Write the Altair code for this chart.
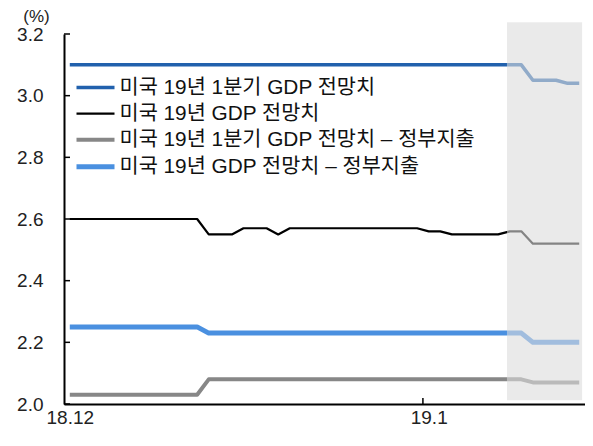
import altair as alt
import pandas as pd

series = [
    "미국 19년 1분기 GDP 전망치",
    "미국 19년 GDP 전망치",
    "미국 19년 1분기 GDP 전망치 – 정부지출",
    "미국 19년 GDP 전망치 – 정부지출",
]
colors = ["#2161AD", "#000000", "#878787", "#4A90E0"]
widths = [3.5, 2.2, 4, 5]

day_index = [0, 1, 2, 3, 4, 5, 6, 7, 8, 9, 10, 11, 12, 13, 14, 15, 16, 17, 18, 19,
             20, 21, 22, 23, 24, 25, 26, 27, 28, 29, 30, 31, 32, 33, 34, 35, 36, 37, 38, 39,
             40, 41, 42, 43, 44]

us_q1 = [3.10, 3.10, 3.10, 3.10, 3.10, 3.10, 3.10, 3.10, 3.10, 3.10, 3.10, 3.10, 3.10, 3.10, 3.10,
         3.10, 3.10, 3.10, 3.10, 3.10, 3.10, 3.10, 3.10, 3.10, 3.10, 3.10, 3.10, 3.10, 3.10, 3.10,
         3.10, 3.10, 3.10, 3.10, 3.10, 3.10, 3.10, 3.10, 3.10, 3.10, 3.05, 3.05, 3.05, 3.04, 3.04]
us_year = [2.60, 2.60, 2.60, 2.60, 2.60, 2.60, 2.60, 2.60, 2.60, 2.60, 2.60, 2.60, 2.55, 2.55, 2.55,
           2.57, 2.57, 2.57, 2.55, 2.57, 2.57, 2.57, 2.57, 2.57, 2.57, 2.57, 2.57, 2.57, 2.57, 2.57,
           2.57, 2.56, 2.56, 2.55, 2.55, 2.55, 2.55, 2.55, 2.56, 2.56, 2.52, 2.52, 2.52, 2.52, 2.52]
us_q1_gov = [2.03, 2.03, 2.03, 2.03, 2.03, 2.03, 2.03, 2.03, 2.03, 2.03, 2.03, 2.03, 2.08, 2.08, 2.08,
             2.08, 2.08, 2.08, 2.08, 2.08, 2.08, 2.08, 2.08, 2.08, 2.08, 2.08, 2.08, 2.08, 2.08, 2.08,
             2.08, 2.08, 2.08, 2.08, 2.08, 2.08, 2.08, 2.08, 2.08, 2.08, 2.07, 2.07, 2.07, 2.07, 2.07]
us_year_gov = [2.25, 2.25, 2.25, 2.25, 2.25, 2.25, 2.25, 2.25, 2.25, 2.25, 2.25, 2.25, 2.23, 2.23, 2.23,
               2.23, 2.23, 2.23, 2.23, 2.23, 2.23, 2.23, 2.23, 2.23, 2.23, 2.23, 2.23, 2.23, 2.23, 2.23,
               2.23, 2.23, 2.23, 2.23, 2.23, 2.23, 2.23, 2.23, 2.23, 2.23, 2.20, 2.20, 2.20, 2.20, 2.20]

x_tick_values = [0, 31]
x_tick_labels = ["18.12", "19.1"]
x_tick_marks = [30.5]
y_tick_values = [2.0, 2.2, 2.4, 2.6, 2.8, 3.0, 3.2]

shade_x = [37.76, 44.25]
shade_y = [2.012, 3.238]

rows = []
for name, vals in zip(series, [us_q1, us_year, us_q1_gov, us_year_gov]):
    for d, v in zip(day_index, vals):
        rows.append({"i": d, "v": v, "s": name})
df = pd.DataFrame(rows)

FONT = "Liberation Sans, Noto Sans CJK KR"

label_expr = "datum.value == %d ? '%s' : '%s'" % (x_tick_values[0], x_tick_labels[0], x_tick_labels[1])

PLOT_W = 521
PLOT_H = 370

x_scale = alt.Scale(domain=[-0.5, 44.5], nice=False, zero=False)
y_scale = alt.Scale(domain=[2.0, 3.2], nice=False, zero=False)

x_axis = alt.Axis(
    values=x_tick_values,
    labelExpr=label_expr,
    ticks=False,
    grid=False,
    domainColor="#000000",
    domainWidth=2,
    labelFontSize=19,
    labelColor="#222222",
    labelPadding=4.5,
    labelFont=FONT,
    title=None,
)
y_axis = alt.Axis(
    values=y_tick_values,
    format=".1f",
    ticks=False,
    grid=False,
    domainColor="#000000",
    domainWidth=2,
    labelFontSize=19,
    labelColor="#222222",
    labelPadding=21,
    labelFont=FONT,
    title="(%)",
    titleAngle=0,
    titleX=-28,
    titleY=-13,
    titleAlign="center",
    titleBaseline="alphabetic",
    titleFontWeight="normal",
    titleFontSize=17,
    titleColor="#222222",
    titleFont=FONT,
)

legend = alt.Legend(
    title=None,
    orient="none",
    legendX=10,
    legendY=42,
    symbolType="M-1,0H3",
    symbolSize=361,
    labelOffset=21.5,
    labelFontSize=20.8,
    labelColor="#111111",
    labelLimit=600,
    rowPadding=4.6,
    labelFont=FONT,
)

lines = alt.Chart(df).mark_line(strokeJoin="round").encode(
    x=alt.X("i:Q", scale=x_scale, axis=x_axis),
    y=alt.Y("v:Q", scale=y_scale, axis=y_axis),
    color=alt.Color("s:N", scale=alt.Scale(domain=series, range=colors), sort=series, legend=legend),
    strokeWidth=alt.StrokeWidth(
        "s:N",
        scale=alt.Scale(type="ordinal", domain=series, range=widths),
        sort=series,
        legend=legend,
    ),
)

shade_df = pd.DataFrame({"x1": [shade_x[0]], "x2": [shade_x[1]], "y1": [shade_y[0]], "y2": [shade_y[1]]})
shade = alt.Chart(shade_df).mark_rect(fill="#dcdcdc", opacity=0.6).encode(
    x=alt.X("x1:Q", scale=x_scale, axis=x_axis),
    x2="x2:Q",
    y=alt.Y("y1:Q", scale=y_scale, axis=y_axis),
    y2="y2:Q",
)

ytick_df = pd.DataFrame({"t": y_tick_values})
yticks = alt.Chart(ytick_df).mark_rule(color="#000000", strokeWidth=1.5).encode(
    y=alt.Y("t:Q", scale=y_scale, axis=y_axis),
    x=alt.value(0),
    x2=alt.value(6),
)

xtick_df = pd.DataFrame({"xt": x_tick_marks})
xticks = alt.Chart(xtick_df).mark_rule(color="#000000", strokeWidth=1.5).encode(
    x=alt.X("xt:Q", scale=x_scale, axis=x_axis),
    y=alt.value(PLOT_H),
    y2=alt.value(PLOT_H - 6),
)

chart = alt.layer(lines, shade, yticks, xticks).properties(
    width=PLOT_W,
    height=PLOT_H,
    autosize=alt.AutoSizeParams(type="none"),
    padding={"left": 56, "top": 26, "right": 0, "bottom": 27},
    background="#ffffff",
).configure(font=FONT).configure_view(stroke=None)

chart.save("out.html", embed_options={"renderer": "svg", "actions": False})
